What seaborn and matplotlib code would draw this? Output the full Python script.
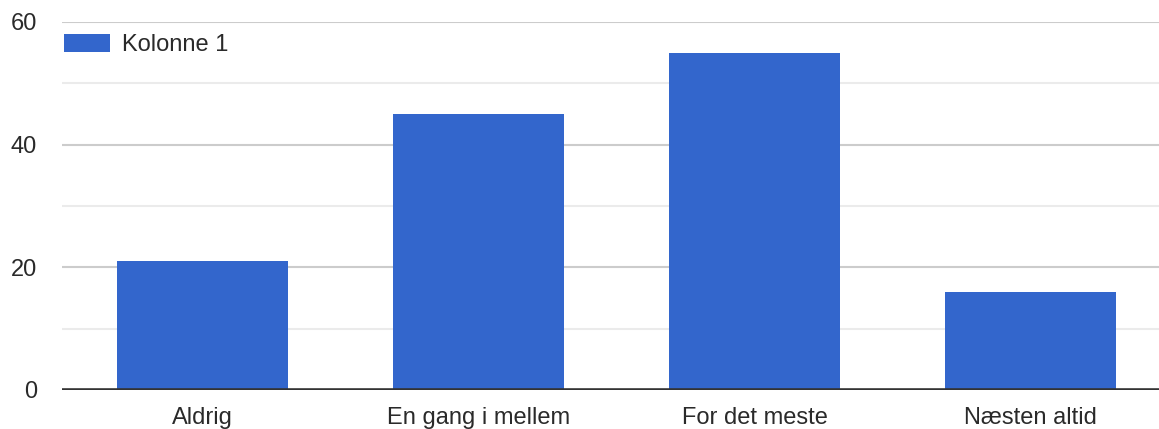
import matplotlib
matplotlib.use("Agg")
import matplotlib.pyplot as plt
import seaborn as sns
import pandas as pd

categories = ["Aldrig", "En gang i mellem", "For det meste", "Næsten altid"]
values = [21, 45, 55, 16]
series_name = "Kolonne 1"

df = pd.DataFrame({"Svar": categories, "Antal": values, "Serie": series_name})

sns.set_style("white")
plt.rcParams["font.family"] = ["Liberation Sans", "DejaVu Sans"]

fig = plt.figure(figsize=(11.59, 4.29), dpi=100)
ax = fig.add_axes([62 / 1159, 1 - 390 / 429, 1 - 62 / 1159, (390 - 22) / 429])

# gridlines first so bars sit on top
for y in [10, 30, 50]:
    ax.axhline(y, color="#ebebeb", lw=1.5, zorder=0)
for y in [20, 40, 60]:
    ax.axhline(y, color="#cccccc", lw=1.5, zorder=0)

sns.barplot(data=df, x="Svar", y="Antal", hue="Serie", palette=["#3366cc"],
            width=0.62, saturation=1, linewidth=0, ax=ax, zorder=2)
ax.axhline(0, color="#333333", lw=2.6, zorder=3)

left = -(202.5 - 62) / 276
ax.set_xlim(left, left + 1097 / 276)
ax.set_ylim(0, 60)
ax.set_yticks([0, 20, 40, 60])
ax.set_xlabel("")
ax.set_ylabel("")
ax.tick_params(axis="both", length=0, labelsize=17)
ax.tick_params(axis="y", pad=18)
ax.tick_params(axis="x", pad=12)
for lbl in ax.get_xticklabels() + ax.get_yticklabels():
    lbl.set_color("#2a2a2a")
for s in ax.spines.values():
    s.set_visible(False)

ax.legend(loc="upper left", bbox_to_anchor=(0.0, 0.974), frameon=False,
          fontsize=17, handlelength=1.95, handleheight=0.8, handletextpad=0.5,
          borderaxespad=0, borderpad=0.1, labelcolor="#2a2a2a")

fig.savefig("out.png", dpi=100)
